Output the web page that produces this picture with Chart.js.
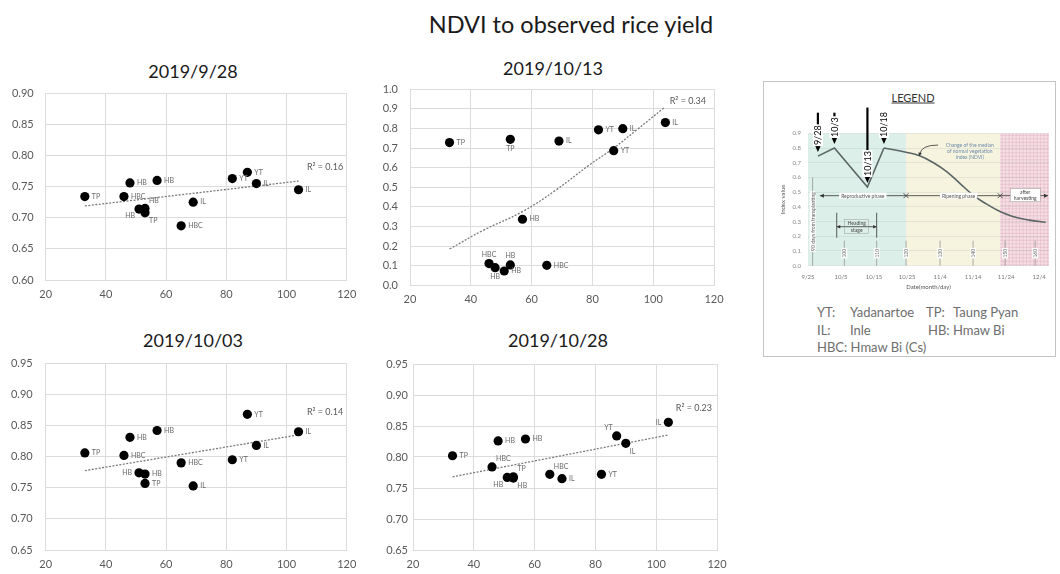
<!DOCTYPE html>
<html><head><meta charset="utf-8">
<script src="https://cdn.jsdelivr.net/npm/chart.js@4.4.1/dist/chart.umd.min.js"></script>
<style>
body{margin:0;background:#fff;font-family:Lato,"Open Sans",sans-serif;}
#wrap{position:relative;width:1060px;height:574px;overflow:hidden;background:#fff;}
canvas{position:absolute;left:0;top:0;}
.t{position:absolute;white-space:nowrap;transform:translate(-50%,-50%);color:#1a1a1a;}
.lg{position:absolute;white-space:nowrap;transform:translateY(-50%);color:#6e6e6e;font-size:13px;}
#lbox{position:absolute;left:763px;top:81px;width:293px;height:276px;border:1px solid #c4c4c4;box-sizing:border-box;background:#fff;}
</style></head>
<body><div id="wrap">
<div id="lbox"></div>
<div class="t" style="left:571px;top:24px;font-size:23.5px;">NDVI to observed rice yield</div>
<div class="t" style="left:193px;top:71px;font-size:18px;">2019/9/28</div>
<div class="t" style="left:553px;top:68px;font-size:18px;">2019/10/13</div>
<div class="t" style="left:193px;top:340px;font-size:18px;">2019/10/03</div>
<div class="t" style="left:558px;top:340px;font-size:18px;">2019/10/28</div>
<div class="t" style="left:913px;top:97px;font-size:11px;text-decoration:underline;color:#333;">LEGEND</div>
<div class="lg" style="left:817px;top:312px;">YT:</div>
<div class="lg" style="left:850px;top:312px;">Yadanartoe</div>
<div class="lg" style="left:926px;top:312px;">TP:</div>
<div class="lg" style="left:953px;top:312px;">Taung Pyan</div>
<div class="lg" style="left:817px;top:329.5px;">IL:</div>
<div class="lg" style="left:850px;top:329.5px;">Inle</div>
<div class="lg" style="left:928px;top:329.5px;">HB: Hmaw Bi</div>
<div class="lg" style="left:817px;top:347px;">HBC: Hmaw Bi (Cs)</div>
<canvas id="c1" width="1060" height="574"></canvas>
<canvas id="c2" width="1060" height="574"></canvas>
<canvas id="c3" width="1060" height="574"></canvas>
<canvas id="c4" width="1060" height="574"></canvas>
<canvas id="c5" width="1060" height="574"></canvas>
</div>
<script>
// ---------- DATA ----------
const yields    = [33, 46, 48, 51, 53, 53, 57, 65, 69, 82, 87, 90, 104];
const varieties = ['TP','HBC','HB','HB','HB','TP','HB','HBC','IL','YT','YT','IL','IL'];
const ndvi0928  = [0.734, 0.734, 0.756, 0.714, 0.715, 0.708, 0.760, 0.687, 0.725, 0.763, 0.773, 0.755, 0.745];
const ndvi1003  = [0.806, 0.802, 0.831, 0.774, 0.772, 0.757, 0.842, 0.790, 0.753, 0.795, 0.868, 0.818, 0.840];
const ndvi1013  = [0.728, 0.111, 0.090, 0.073, 0.104, 0.745, 0.337, 0.102, 0.736, 0.793, 0.687, 0.799, 0.830];
const ndvi1028  = [0.802, 0.784, 0.826, 0.767, 0.766, 0.768, 0.829, 0.772, 0.765, 0.772, 0.834, 0.822, 0.856];
const trend0928X = [33, 104], trend0928Y = [0.719, 0.759];
const trend1003X = [33, 104], trend1003Y = [0.7775, 0.835];
const trend1013X = [33, 44, 57, 68, 79, 87, 94.5, 103.5];
const trend1013Y = [0.185, 0.28, 0.376, 0.486, 0.614, 0.70, 0.792, 0.905];
const trend1028X = [33, 104], trend1028Y = [0.768, 0.8355];
const r2Labels = ['R\u00B2 = 0.16', 'R\u00B2 = 0.34', 'R\u00B2 = 0.14', 'R\u00B2 = 0.23'];

// legend (growth-stage) chart
const dateTicks   = ['9/25','10/5','10/15','10/25','11/4','11/14','11/24','12/4'];
const obsDays     = [3, 8, 18, 23];
const obsNdvi     = [0.745, 0.80, 0.535, 0.80];
const obsLabels   = ['9/28','10/3','10/13','10/18'];
const declineDays = [23, 30, 34, 38, 42, 46, 50, 54, 58, 62, 67, 72];
const declineNdvi = [0.80, 0.77, 0.745, 0.70, 0.64, 0.56, 0.48, 0.42, 0.37, 0.335, 0.31, 0.295];
const phaseBounds = [0, 29.7, 58.2, 73];
const phaseNames  = ['Reproductive phase', 'Ripening phase', 'after harvesting'];
const dapDays     = [1.4, 11, 20.8, 29.7, 40, 50, 59.7, 68.8];
const dapLabels   = ['90 days from transplanting','100','110','120','130','140','150','160'];
const headingDays = [8.7, 20.8];
const annotationLines = ['Change of the median', 'of normal vegetation', 'index (NDVI)'];

// ---------- PLUGINS ----------
const pointLabels = {
  id: 'pointLabels',
  afterDatasetsDraw(chart, args, o) {
    if (!o || !o.labels) return;
    const ctx = chart.ctx, meta = chart.getDatasetMeta(0);
    ctx.save();
    ctx.font = '7px Lato'; ctx.fillStyle = '#6a6a6a'; ctx.textBaseline = 'middle';
    meta.data.forEach((el, i) => {
      const p = (o.place || {})[i] || 'r';
      let x = el.x, y = el.y, al = 'left';
      switch (p) {
        case 'r': x += 7; break;
        case 'l': x -= 7; al = 'right'; break;
        case 'a': y -= 9; al = 'center'; break;
        case 'b': y += 9; al = 'center'; break;
        case 'ar': x += 4; y -= 8; break;
        case 'br': x += 4; y += 8; break;
        case 'bl': x -= 4; y += 7; al = 'right'; break;
        case 'al': x -= 4; y -= 8; al = 'right'; break;
      }
      ctx.textAlign = al; ctx.fillText(o.labels[i], x, y);
    });
    if (o.r2) {
      ctx.font = '9px Lato'; ctx.fillStyle = '#595959'; ctx.textAlign = 'center';
      ctx.fillText(o.r2, chart.scales.x.getPixelForValue(o.r2at[0]), chart.scales.y.getPixelForValue(o.r2at[1]));
    }
    ctx.restore();
  }
};

function head(ctx, x, y, ang, len, half) {
  ctx.beginPath();
  ctx.moveTo(x, y);
  ctx.lineTo(x - len * Math.cos(ang) + half * Math.sin(ang), y - len * Math.sin(ang) - half * Math.cos(ang));
  ctx.lineTo(x - len * Math.cos(ang) - half * Math.sin(ang), y - len * Math.sin(ang) + half * Math.cos(ang));
  ctx.closePath(); ctx.fill();
}
function vtext(ctx, txt, x, y, font, color, bg) {
  ctx.save(); ctx.translate(x, y); ctx.rotate(-Math.PI / 2);
  ctx.font = font; ctx.textAlign = 'center'; ctx.textBaseline = 'middle';
  const w = ctx.measureText(txt).width, h = parseFloat(font) + 1;
  if (bg) { ctx.fillStyle = bg; ctx.fillRect(-w / 2 - 1, -h / 2, w + 2, h); }
  ctx.fillStyle = color; ctx.fillText(txt, 0, 0.5);
  ctx.restore();
}

const stageDeco = {
  id: 'stageDeco',
  beforeDraw(chart, args, o) {
    if (!o || !o.on) return;
    const ctx = chart.ctx, a = chart.chartArea, xs = chart.scales.x;
    const cols = ['#dcefe9', '#f6f3df', '#f5dfe5'];
    ctx.save();
    for (let i = 0; i < 3; i++) {
      const x0 = xs.getPixelForValue(phaseBounds[i]), x1 = xs.getPixelForValue(phaseBounds[i + 1]);
      ctx.fillStyle = cols[i]; ctx.fillRect(x0, a.top, x1 - x0, a.bottom - a.top);
    }
    const px0 = xs.getPixelForValue(phaseBounds[2]), px1 = xs.getPixelForValue(phaseBounds[3]);
    ctx.strokeStyle = 'rgba(205,140,160,0.45)'; ctx.lineWidth = 0.6; ctx.beginPath();
    for (let x = px0 + 2; x < px1; x += 3.5) { ctx.moveTo(x, a.top); ctx.lineTo(x, a.bottom); }
    for (let y = a.top + 2; y < a.bottom; y += 3.5) { ctx.moveTo(px0, y); ctx.lineTo(px1, y); }
    ctx.stroke();
    ctx.restore();
  },
  afterDatasetsDraw(chart, args, o) {
    if (!o || !o.on) return;
    const ctx = chart.ctx, a = chart.chartArea, xs = chart.scales.x, ys = chart.scales.y;
    const X = v => xs.getPixelForValue(v), Y = v => ys.getPixelForValue(v);
    ctx.save();
    // days-from-transplanting marks
    ctx.strokeStyle = '#8a8a8a'; ctx.lineWidth = 0.7;
    dapDays.forEach((d, i) => {
      const x = X(d), top = Y(i === 0 ? 0.6 : 0.17), bot = Y(0);
      ctx.beginPath(); ctx.moveTo(x, top); ctx.lineTo(x, bot); ctx.stroke();
      const cy = i === 0 ? (top + bot) / 2 : Y(0.085);
      vtext(ctx, dapLabels[i], x, cy, '5px Lato', '#666', 'rgba(255,255,255,0.9)');
    });
    // phase arrow
    const yP = Y(0.476), xa = X(3.6), xb = X(72.7);
    ctx.strokeStyle = '#333'; ctx.fillStyle = '#333'; ctx.lineWidth = 0.8;
    ctx.beginPath(); ctx.moveTo(xa, yP); ctx.lineTo(xb, yP); ctx.stroke();
    head(ctx, xa, yP, Math.PI, 4, 2); head(ctx, xb, yP, 0, 4, 2);
    [phaseBounds[1], phaseBounds[2]].forEach(d => {
      const x = X(d); ctx.beginPath();
      ctx.moveTo(x - 2.5, yP - 2.5); ctx.lineTo(x + 2.5, yP + 2.5);
      ctx.moveTo(x - 2.5, yP + 2.5); ctx.lineTo(x + 2.5, yP - 2.5); ctx.stroke();
    });
    ctx.font = '5px Lato'; ctx.textAlign = 'center'; ctx.textBaseline = 'middle';
    [[16.6, phaseNames[0]], [45.6, phaseNames[1]]].forEach(([d, t]) => {
      const w = ctx.measureText(t).width;
      ctx.fillStyle = '#fff'; ctx.fillRect(X(d) - w / 2 - 2, yP - 3, w + 4, 6);
      ctx.fillStyle = '#555'; ctx.fillText(t, X(d), yP + 0.3);
    });
    const hx = X(65.8), hw = 30;
    ctx.fillStyle = '#fff'; ctx.fillRect(hx - hw / 2, yP - 7, hw, 13);
    ctx.strokeStyle = '#999'; ctx.lineWidth = 0.5; ctx.strokeRect(hx - hw / 2, yP - 7, hw, 13);
    ctx.fillStyle = '#444'; ctx.fillText('after', hx, yP - 3); ctx.fillText('harvesting', hx, yP + 3);
    // heading stage
    const yH = Y(0.265), h0 = X(headingDays[0]), h1 = X(headingDays[1]);
    ctx.strokeStyle = '#333'; ctx.fillStyle = '#333'; ctx.lineWidth = 0.8;
    ctx.beginPath();
    ctx.moveTo(h0, Y(0.36)); ctx.lineTo(h0, Y(0.19));
    ctx.moveTo(h1, Y(0.36)); ctx.lineTo(h1, Y(0.19));
    ctx.moveTo(h0, yH); ctx.lineTo(h1, yH); ctx.stroke();
    head(ctx, h0, yH, Math.PI, 3.5, 1.8); head(ctx, h1, yH, 0, 3.5, 1.8);
    const hc = (h0 + h1) / 2;
    ctx.strokeStyle = '#888'; ctx.lineWidth = 0.4; ctx.strokeRect(hc - 12, yH - 7, 24, 14);
    ctx.fillStyle = '#444'; ctx.fillText('Heading', hc, yH - 3.5); ctx.fillText('stage', hc, yH + 4);
    // annotation
    ctx.fillStyle = '#6d8cab'; ctx.font = '5px Lato';
    annotationLines.forEach((t, i) => ctx.fillText(t, X(49), Y(0.82) + i * 6));
    ctx.strokeStyle = '#333'; ctx.fillStyle = '#333'; ctx.lineWidth = 0.8;
    const ax0 = X(39.4), ay0 = Y(0.82), ax1 = X(33.6), ay1 = Y(0.745);
    ctx.beginPath(); ctx.moveTo(ax0, ay0); ctx.quadraticCurveTo(ax1 + 2, ay0, ax1 + 1, ay1 - 2); ctx.stroke();
    head(ctx, ax1, ay1, Math.PI * 0.62, 3.5, 1.8);
    // observation date arrows
    ctx.fillStyle = '#000'; ctx.strokeStyle = '#000';
    obsDays.forEach((d, i) => {
      const x = X(d), top = Y(o.tops[i]), tip = Y(obsNdvi[i]) - 4;
      ctx.lineWidth = 2.2;
      ctx.beginPath(); ctx.moveTo(x, top); ctx.lineTo(x, tip - 7); ctx.stroke();
      head(ctx, x, tip, Math.PI / 2, 9, 4);
      ctx.font = '9px Lato';
      const w = ctx.measureText(obsLabels[i]).width;
      vtext(ctx, obsLabels[i], x, tip - 9 - w / 2 + 2, '9px Lato', '#000', '#fff');
    });
    // axis titles
    ctx.fillStyle = '#555'; ctx.font = '6px Lato'; ctx.textAlign = 'center';
    ctx.fillText('Date(month/day)', (a.left + a.right) / 2, a.bottom + 21);
    vtext(ctx, 'Index value', a.left - 25, (a.top + a.bottom) / 2, '6px Lato', '#555', null);
    ctx.restore();
  }
};
Chart.register(pointLabels, stageDeco);

// ---------- SCATTER PANELS ----------
const panels = [
  { id: 'c1', vals: ndvi0928, tx: trend0928X, ty: trend0928Y, r2: r2Labels[0], r2at: [112.8, 0.782],
    area: { l: 45.7, t: 93.3, r: 346.7, b: 280 }, y: [0.60, 0.90, 0.05, 2], ypad: 12,
    place: { 3: 'bl', 4: 'ar', 5: 'br' } },
  { id: 'c2', vals: ndvi1013, tx: trend1013X, ty: trend1013Y, r2: r2Labels[1], r2at: [111.4, 0.94], curve: true,
    area: { l: 410, t: 89.3, r: 714, b: 285.3 }, y: [0, 1.0, 0.1, 1], ypad: 12,
    place: { 1: 'a', 2: 'b', 4: 'a', 5: 'b' } },
  { id: 'c3', vals: ndvi1003, tx: trend1003X, ty: trend1003Y, r2: r2Labels[2], r2at: [112.8, 0.872],
    area: { l: 45.7, t: 363.3, r: 346.7, b: 550 }, y: [0.65, 0.95, 0.05, 2], ypad: 13,
    place: { 3: 'l' } },
  { id: 'c4', vals: ndvi1028, tx: trend1028X, ty: trend1028Y, r2: r2Labels[3], r2at: [112.4, 0.879],
    area: { l: 413, t: 364, r: 717, b: 550 }, y: [0.65, 0.95, 0.05, 2], ypad: 5,
    place: { 1: 'ar', 3: 'bl', 4: 'br', 5: 'ar', 7: 'ar', 10: 'al', 11: 'br', 12: 'l' } }
];

panels.forEach(c => {
  const YW = 40, XH = 25;
  new Chart(document.getElementById(c.id), {
    type: 'scatter',
    data: { datasets: [
      { type: 'scatter', data: yields.map((x, i) => ({ x, y: c.vals[i] })), backgroundColor: '#000', borderColor: '#000',
        pointRadius: 4.6, pointHoverRadius: 4.6, borderWidth: 0, order: 0 },
      { type: 'line', data: c.tx.map((x, i) => ({ x, y: c.ty[i] })), borderColor: '#7a7a7a', borderWidth: 1.3,
        borderDash: [2, 1.5], pointRadius: 0, tension: c.curve ? 0.4 : 0, fill: false, order: 1 }
    ]},
    options: {
      responsive: false, animation: false, events: [],
      layout: { padding: { left: c.area.l - YW, top: c.area.t, right: 1060 - c.area.r, bottom: 574 - c.area.b - XH } },
      plugins: { legend: { display: false }, tooltip: { enabled: false },
        pointLabels: { labels: varieties, place: c.place, r2: c.r2, r2at: c.r2at }, stageDeco: { on: false } },
      scales: {
        x: { type: 'linear', min: 20, max: 120,
          ticks: { stepSize: 20, padding: 8, color: '#595959', font: { family: 'Lato', size: 11 } },
          grid: { color: '#dcdcdc', drawTicks: false }, border: { color: '#dcdcdc' },
          afterFit: s => { s.height = XH; s.paddingLeft = 0; s.paddingRight = 0; } },
        y: { min: c.y[0], max: c.y[1],
          ticks: { stepSize: c.y[2], padding: c.ypad, color: '#595959', font: { family: 'Lato', size: 11 },
            callback: v => Number(v).toFixed(c.y[3]) },
          grid: { color: '#dcdcdc', drawTicks: false }, border: { color: '#dcdcdc' },
          afterFit: s => { s.width = YW; s.paddingTop = 0; s.paddingBottom = 0; } }
      }
    }
  });
});

// ---------- LEGEND (growth-stage) CHART ----------
(function () {
  const area = { l: 808, t: 133.3, r: 1049, b: 265.7 }, YW = 33, XH = 30;
  new Chart(document.getElementById('c5'), {
    type: 'line',
    data: { datasets: [
      { data: obsDays.map((d, i) => ({ x: d, y: obsNdvi[i] })), borderColor: '#5b6565', borderWidth: 1.6, pointRadius: 0, tension: 0 },
      { data: declineDays.map((d, i) => ({ x: d, y: declineNdvi[i] })), borderColor: '#5b6565', borderWidth: 1.6, pointRadius: 0, tension: 0.4 }
    ]},
    options: {
      responsive: false, animation: false, events: [],
      layout: { padding: { left: area.l - YW, top: area.t, right: 1060 - area.r, bottom: 574 - area.b - XH } },
      plugins: { legend: { display: false }, tooltip: { enabled: false },
        stageDeco: { on: true, tops: [1.04, 1.04, 1.075, 1.04] } },
      scales: {
        x: { type: 'linear', min: 0, max: 73,
          ticks: { stepSize: 10, padding: 8, color: '#777', font: { family: 'Lato', size: 6 },
            autoSkip: false, maxRotation: 0, includeBounds: false,
            callback: v => dateTicks[Math.round(v / 10)] },
          grid: { display: false, drawTicks: false }, border: { display: false },
          afterFit: s => { s.height = XH; s.paddingLeft = 0; s.paddingRight = 0; } },
        y: { min: 0, max: 0.9,
          ticks: { stepSize: 0.1, padding: 7, color: '#888', font: { family: 'Lato', size: 6 },
            callback: v => Number(v).toFixed(1) },
          grid: { color: 'rgba(150,160,160,0.3)', drawTicks: false, lineWidth: 0.6 }, border: { display: false },
          afterFit: s => { s.width = YW; s.paddingTop = 0; s.paddingBottom = 0; } }
      }
    }
  });
})();
</script>
</body></html>
